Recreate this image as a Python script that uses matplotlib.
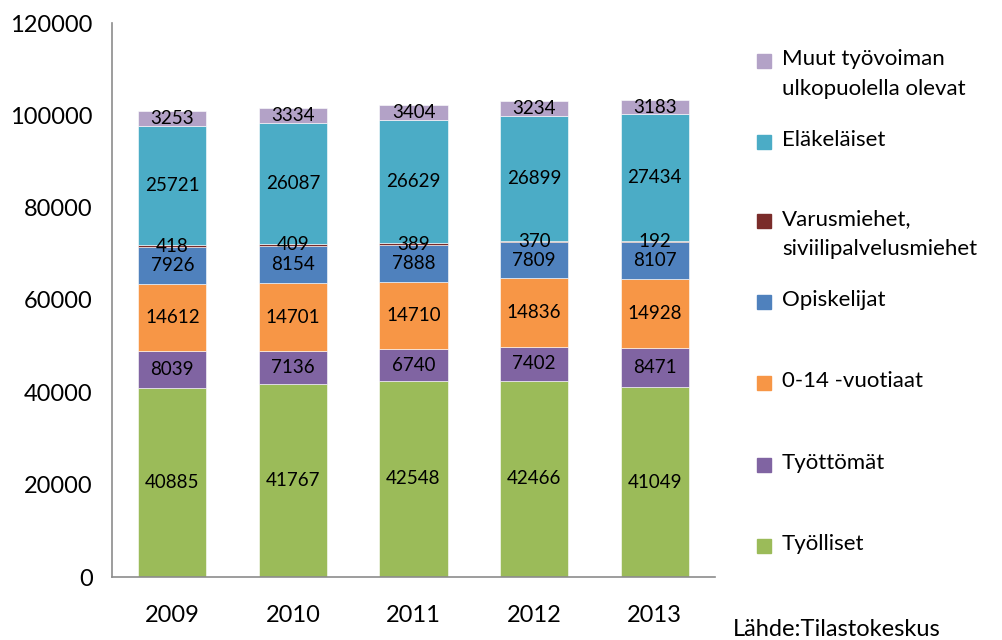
import matplotlib

matplotlib.use("Agg")
import matplotlib.pyplot as plt
from matplotlib.patches import Rectangle

YEARS = ["2009", "2010", "2011", "2012", "2013"]
SERIES = ["Työlliset", "Työttömät", "0-14 -vuotiaat", "Opiskelijat",
          "Varusmiehet,\nsiviilipalvelusmiehet", "Eläkeläiset",
          "Muut työvoiman\nulkopuolella olevat"]
tyolliset = [40885, 41767, 42548, 42466, 41049]
tyottomat = [8039, 7136, 6740, 7402, 8471]
lapset = [14612, 14701, 14710, 14836, 14928]
opiskelijat = [7926, 8154, 7888, 7809, 8107]
varusmiehet = [418, 409, 389, 370, 192]
elakelaiset = [25721, 26087, 26629, 26899, 27434]
muut = [3253, 3334, 3404, 3234, 3183]
VALUES = [tyolliset, tyottomat, lapset, opiskelijat, varusmiehet, elakelaiset, muut]
COLORS = ["#9BBB59", "#8064A2", "#F79646", "#4F81BD", "#7A2C2A", "#4BACC6", "#B3A2C7"]

plt.rcParams["font.family"] = ["Lato", "DejaVu Sans"]

W, H = 1003, 640
fig = plt.figure(figsize=(W / 100, H / 100), dpi=100)
ax = fig.add_axes([112 / W, (H - 577) / H, 603 / W, 554 / H])

x = range(len(YEARS))
bottom = [0] * len(YEARS)
for name, vals, col in zip(SERIES, VALUES, COLORS):
    bars = ax.bar(x, vals, width=0.565, bottom=bottom, color=col,
                  edgecolor="white", linewidth=0.4)
    ax.bar_label(bars, labels=[str(v) for v in vals], label_type="center",
                 fontsize=13.5, color="black")
    bottom = [b + v for b, v in zip(bottom, vals)]

ax.set_xlim(-0.5, len(YEARS) - 0.5)
ax.set_ylim(0, 120000)
ax.set_yticks(range(0, 120001, 20000))
ax.set_xticks(list(x), YEARS)
ax.tick_params(axis="both", length=0, labelsize=17)
ax.tick_params(axis="x", pad=20)
ax.tick_params(axis="y", pad=14)
for s in ["top", "right"]:
    ax.spines[s].set_visible(False)
for s in ["left", "bottom"]:
    ax.spines[s].set_color("#8C8C8C")
    ax.spines[s].set_linewidth(1.2)

# legend drawn by hand to keep Excel's uneven spacing (top to bottom)
legend_y = [61, 142, 221, 302, 383, 465, 546]
for name, col, yy in zip(SERIES[::-1], COLORS[::-1], legend_y):
    fig.patches.append(Rectangle((757 / W, (H - yy - 7) / H), 14 / W, 14 / H,
                                 transform=fig.transFigure, color=col))
    fig.text(782 / W, (H - yy + 12) / H, name, fontsize=16, va="top",
             ha="left", linespacing=1.6)

fig.text(733 / W, (H - 630) / H, "Lähde:Tilastokeskus", fontsize=17,
         va="center", ha="left")

fig.savefig("out.png", dpi=100)
